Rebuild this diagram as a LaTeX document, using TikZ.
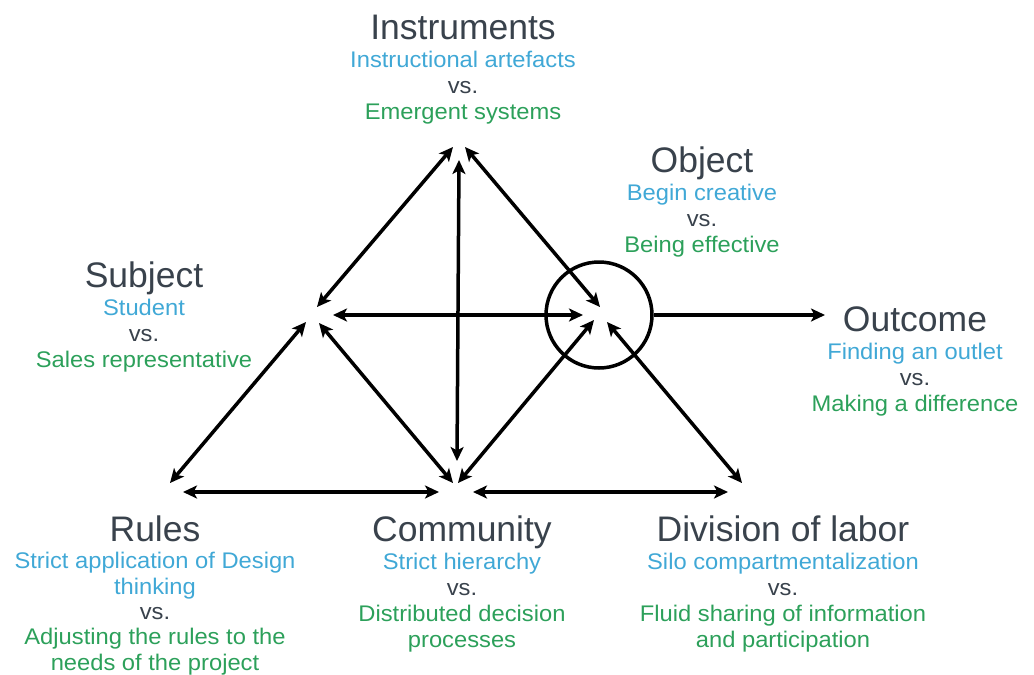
\documentclass[tikz,border=0pt]{standalone}
\usepackage{fontspec}
\setmainfont{Liberation Sans}
\newfontfamily\subf[FakeStretch=1.05]{Liberation Sans}
\usetikzlibrary{arrows.meta}
\definecolor{titlegray}{RGB}{57,66,76}
\definecolor{bluetxt}{RGB}{64,168,214}
\definecolor{greentxt}{RGB}{44,160,90}
\newcommand{\bl}[1]{\textcolor{bluetxt}{#1}}
\newcommand{\gr}[1]{\textcolor{greentxt}{#1}}
\newcommand{\vsx}{\textcolor{titlegray}{vs.}}
\begin{document}
\begin{tikzpicture}[x=1pt,y=-1pt,
  link/.style={line width=3.5pt, {Stealth[length=14pt,width=13pt,inset=3.5pt]}-{Stealth[length=14pt,width=13pt,inset=3.5pt]}},
  oneway/.style={line width=3.5pt, -{Stealth[length=14pt,width=13pt,inset=3.5pt]}},
  ttl/.style={anchor=base, text=titlegray, font=\fontsize{35.5}{40}\selectfont, inner sep=0pt},
  subt/.style={anchor=base, align=center, inner sep=0pt, font=\subf\fontsize{22.6}{26}\selectfont},
  ring/.style={circle, draw, line width=3.5pt, minimum size=106pt, inner sep=0pt}
]
\useasboundingbox (0,0) rectangle (1034,675);

% texts (sub nodes placed at the baseline of their last line)
\node[ttl] (tInstr) at (463,39) {Instruments};
\node[subt] (sInstr) at (463,119) {\bl{Instructional artefacts}\\ \vsx\\ \gr{Emergent systems}};
\node[ttl] (tObj) at (702,172) {Object};
\node[subt] (sObj) at (702,252) {\bl{Begin creative}\\ \vsx\\ \gr{Being effective}};
\node[ttl] (tSubj) at (144,287) {Subject};
\node[subt] (sSubj) at (144,367) {\bl{Student}\\ \vsx\\ \gr{Sales representative}};
\node[ttl] (tOut) at (915,331) {Outcome};
\node[subt] (sOut) at (915,411) {\bl{Finding an outlet}\\ \vsx\\ \gr{Making a difference}};
\node[ttl] (tRules) at (155,541) {Rules};
\node[subt, font=\subf\fontsize{22.6}{25.3}\selectfont] (sRules) at (155,670) {\bl{Strict application of Design}\\ \bl{thinking}\\ \vsx\\ \gr{Adjusting the rules to the}\\ \gr{needs of the project}};
\node[ttl] (tComm) at (462,541) {Community};
\node[subt] (sComm) at (462,647) {\bl{Strict hierarchy}\\ \vsx\\ \gr{Distributed decision}\\ \gr{processes}};
\node[ttl] (tDiv) at (783,541) {Division of labor};
\node[subt] (sDiv) at (783,647) {\bl{Silo compartmentalization}\\ \vsx\\ \gr{Fluid sharing of information}\\ \gr{and participation}};

% object circle
\node[ring] (ring) at (599,315) {};

% arrow end points
\coordinate (sI) at (317,307); \coordinate (iS) at (453,147);
\coordinate (iC) at (459,160); \coordinate (cI) at (457,461);
\coordinate (iO) at (465,147); \coordinate (oI) at (600,307);
\coordinate (sO) at (333,315); \coordinate (oS) at (583,315);
\coordinate (outEnd) at (825,315);
\coordinate (sR) at (306,322); \coordinate (rS) at (170,483);
\coordinate (sC) at (319,323); \coordinate (cS) at (453,483);
\coordinate (cO) at (458,483); \coordinate (oC) at (594,320);
\coordinate (oD) at (607,322); \coordinate (dO) at (742,483);
\coordinate (rC) at (183,492); \coordinate (cR) at (439,492);
\coordinate (cD) at (473,492); \coordinate (dC) at (728,492);

% connectors
\draw[link] (sI) -- (iS);
\draw[link] (iC) -- (cI);
\draw[link] (iO) -- (oI);
\draw[link] (sO) -- (oS);
\draw[oneway] (ring.east) -- (outEnd);
\draw[link] (sR) -- (rS);
\draw[link] (sC) -- (cS);
\draw[link] (cO) -- (oC);
\draw[link] (oD) -- (dO);
\draw[link] (rC) -- (cR);
\draw[link] (cD) -- (dC);
\end{tikzpicture}
\end{document}
